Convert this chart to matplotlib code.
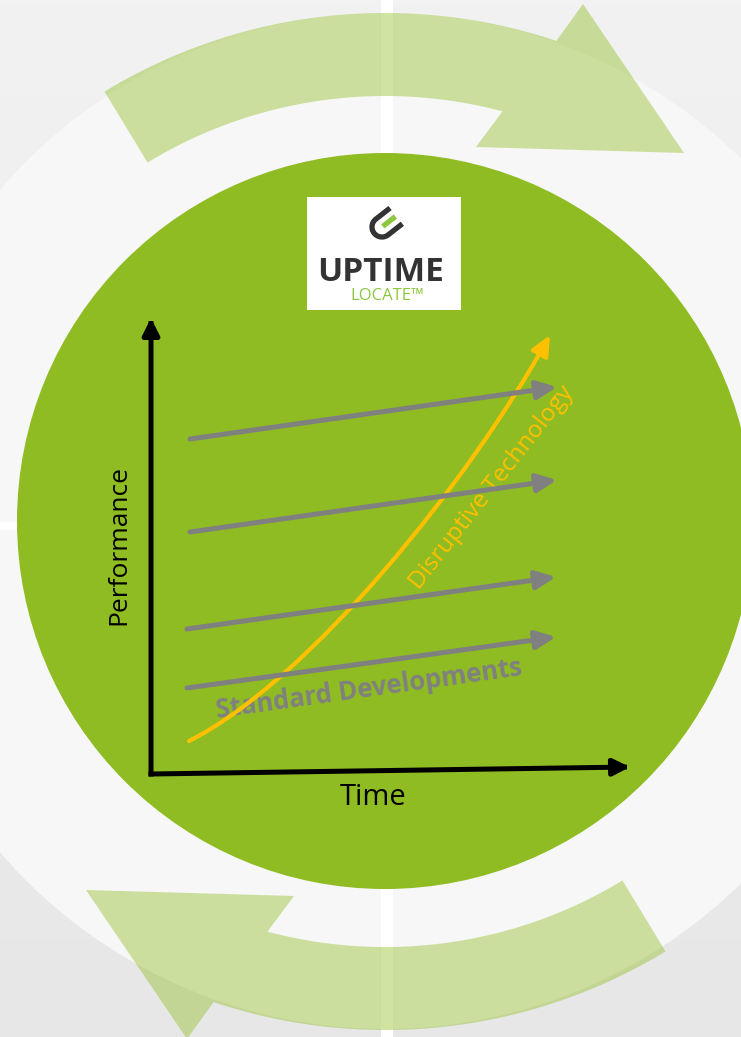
import numpy as np
import matplotlib.pyplot as plt
from matplotlib.patches import Circle, Rectangle, Polygon, FancyArrowPatch, ArrowStyle
from matplotlib.path import Path
from matplotlib.colors import LinearSegmentedColormap

plt.rcParams['font.family'] = ['Open Sans', 'DejaVu Sans']

W, H = 741, 1037

# standard developments: start and end of each grey arrow (slide pixels)
std_x0 = [190, 190, 187, 187]
std_y0 = [439, 532, 629, 688]
std_x1 = [557, 557, 556, 556]
std_y1 = [387, 480, 577, 637]

# disruptive technology curve, bezier control points
dis_x = [189, 310, 470, 550]
dis_y = [741, 680, 480, 335]

# axes of the sketch
origin = (151, 774)
time_end = (630, 767)
perf_end = (151, 318)

green = '#8fbc22'
grey = '#808080'
yellow = '#ffc000'

fig = plt.figure(figsize=(W / 100, H / 100), dpi=100)
ax = fig.add_axes([0, 0, 1, 1])

# background
grad = np.linspace(0, 1, 256).reshape(-1, 1)
bg_cmap = LinearSegmentedColormap.from_list('bg', ['#f2f2f2', '#e7e7e7'])
ax.imshow(grad, extent=[0, W, H, 0], cmap=bg_cmap, aspect='auto', zorder=0)
ax.add_patch(Circle((385, 521), 508, fc='#f7f7f7', ec='none', zorder=1))
ax.add_patch(Rectangle((381, 0), 12, H, fc='white', ec='none', zorder=2))
ax.add_patch(Rectangle((0, 522), W, 8, fc='white', ec='none', zorder=2))

# big cycle arrows (top one, then the same rotated half a turn)
cx, cy = 385, 553
r_out, r_in = 540, 457
tail = np.radians(121.3)
t_out = np.linspace(tail, np.radians(71.5), 80)
t_in = np.linspace(np.radians(75.1), tail, 80)
outer = np.c_[cx + r_out * np.cos(t_out), cy - r_out * np.sin(t_out)]
inner = np.c_[cx + r_in * np.cos(t_in), cy - r_in * np.sin(t_in)]
head = np.array([(583, 4), (684, 153), (476, 147)])
top_arrow = np.vstack([outer, head, inner])
bottom_arrow = np.c_[770 - top_arrow[:, 0], 1043 - top_arrow[:, 1]]
for pts in (top_arrow, bottom_arrow):
    ax.add_patch(Polygon(pts, closed=True, fc=(0.56, 0.74, 0.13), alpha=0.42,
                         ec='none', zorder=3))

# green disc
ax.add_patch(Circle((385, 521), 368, fc=green, ec='none', zorder=4))

# logo
ax.add_patch(Rectangle((307, 197), 154, 113, fc='white', ec='none', zorder=5))
th = np.radians(38)
d = np.array([np.cos(th), -np.sin(th)])
p = np.array([np.sin(th), np.cos(th)])
c0 = np.array([382, 227])
r, L = 10, 18
phi = np.linspace(0, np.pi, 40)
arm1 = [c0 - r * p + s * d for s in (L, 0)]
arc = [c0 + r * (np.cos(f) * -p + np.sin(f) * -d) for f in phi]
arm2 = [c0 + r * p + s * d for s in (0, L)]
u_shape = np.array(arm1 + arc + arm2)
ax.plot(u_shape[:, 0], u_shape[:, 1], color='#333333', lw=3.8,
        solid_capstyle='butt', zorder=6)
bar = np.array([c0 + 1 * d, c0 + 17 * d])
ax.plot(bar[:, 0], bar[:, 1], color='#8dc63f', lw=3.8, solid_capstyle='butt', zorder=6)
ax.text(381, 281, 'UPTIME', fontsize=24, fontweight='bold', color='#333333',
        ha='center', va='baseline', zorder=6)
ax.text(350, 300, 'LOCATE\u2122', fontsize=12, color='#8dc63f',
        ha='left', va='baseline', zorder=6)

# axes
ax_style = ArrowStyle('-|>', head_length=10, head_width=5)
for end in (time_end, perf_end):
    ax.add_patch(FancyArrowPatch(origin, end, arrowstyle=ax_style, mutation_scale=1,
                                 color='black', lw=3.6, shrinkA=0, shrinkB=0,
                                 capstyle='projecting', zorder=9))
ax.text(119, 545, 'Performance', rotation=90, fontsize=19, color='black',
        ha='center', va='center', zorder=9)
ax.text(373, 805, 'Time', fontsize=21, color='black', ha='center',
        va='baseline', zorder=9)

# labels
ax.text(369, 689, 'Standard Developments', rotation=8, rotation_mode='anchor',
        fontsize=18.5, fontweight='bold', color=grey, ha='center', va='center',
        zorder=6)
ax.text(492, 488, 'Disruptive Technology', rotation=52, rotation_mode='anchor',
        fontsize=17.5, color=yellow, ha='center', va='center', zorder=6)

# disruptive curve
curve = Path(list(zip(dis_x, dis_y)),
             [Path.MOVETO, Path.CURVE4, Path.CURVE4, Path.CURVE4])
ax.add_patch(FancyArrowPatch(path=curve,
                             arrowstyle=ArrowStyle('-|>', head_length=12, head_width=5.5),
                             mutation_scale=1, color=yellow, lw=3, zorder=7))

# standard development arrows
std_style = ArrowStyle('-|>', head_length=12, head_width=5.5)
for x0, y0, x1, y1 in zip(std_x0, std_y0, std_x1, std_y1):
    ax.add_patch(FancyArrowPatch((x0, y0), (x1, y1), arrowstyle=std_style,
                                 mutation_scale=1, color=grey, lw=3.6,
                                 shrinkA=0, shrinkB=0, zorder=8))

ax.set_xlim(0, W)
ax.set_ylim(H, 0)
ax.axis('off')

fig.savefig('out.png', dpi=100)
